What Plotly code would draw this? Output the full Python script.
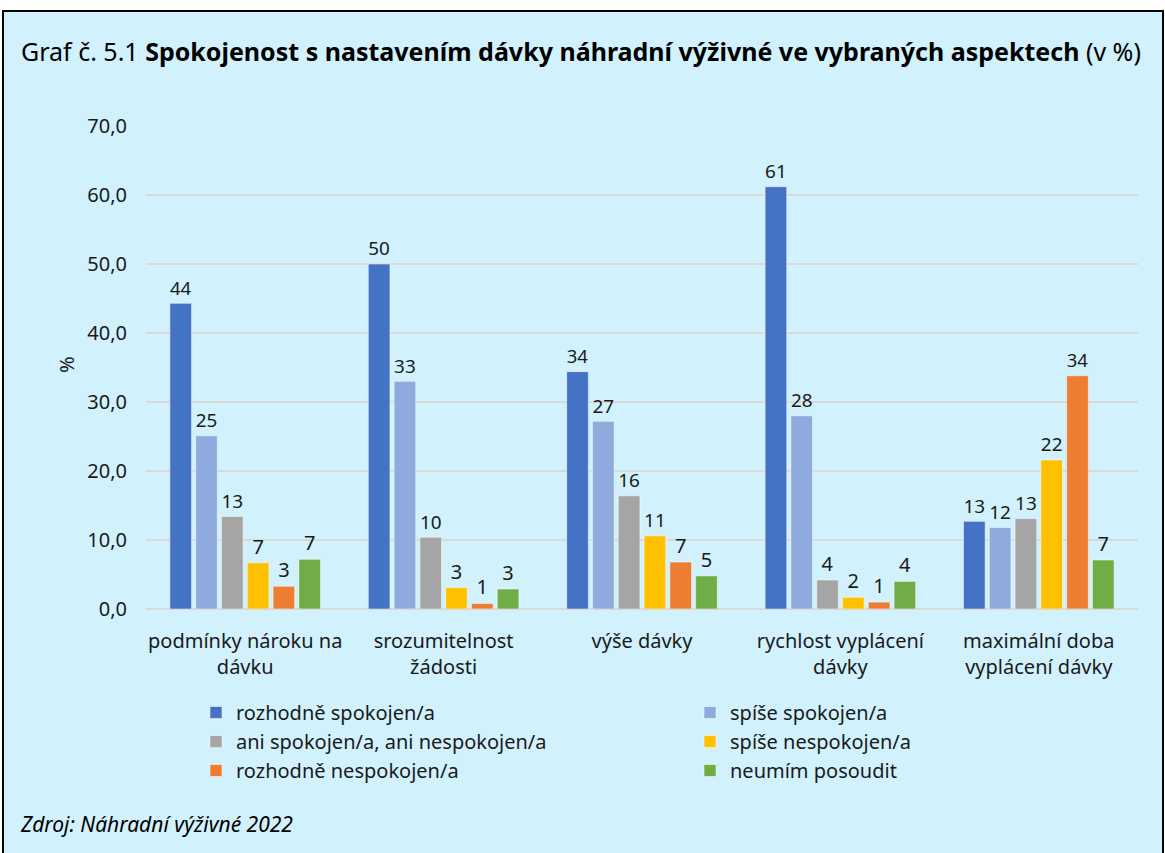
import plotly.graph_objects as go

categories = [
    "podmínky nároku na<br>dávku",
    "srozumitelnost<br>žádosti",
    "výše dávky",
    "rychlost vyplácení<br>dávky",
    "maximální doba<br>vyplácení dávky",
]

series_names = [
    "rozhodně spokojen/a",
    "spíše spokojen/a",
    "ani spokojen/a, ani nespokojen/a",
    "spíše nespokojen/a",
    "rozhodně nespokojen/a",
    "neumím posoudit",
]

rozhodne_spokojen = [44.3, 50.0, 34.4, 61.2, 12.7]
spise_spokojen = [25.1, 33.0, 27.2, 28.0, 11.8]
ani_ani = [13.4, 10.4, 16.4, 4.2, 13.1]
spise_nespokojen = [6.7, 3.1, 10.6, 1.7, 21.6]
rozhodne_nespokojen = [3.3, 0.8, 6.8, 1.0, 33.8]
neumim = [7.2, 2.9, 4.8, 4.0, 7.1]

values = [rozhodne_spokojen, spise_spokojen, ani_ani,
          spise_nespokojen, rozhodne_nespokojen, neumim]
colors = ["#4472C4", "#8FAADC", "#A5A5A5", "#FFC000", "#ED7D31", "#70AD47"]

FONT = "Noto Sans"
W, H = 1165, 853
L, R, T, B = 146, 27, 126, 244
PW, PH = W - L - R, H - T - B


def px_x(px):
    return (px - L) / PW


def px_y(py):
    return (H - B - py) / PH


fig = go.Figure()
for i, (name, vals, col) in enumerate(zip(series_names, values, colors)):
    # legend laid out in two columns: even traces left, odd traces right
    fig.add_trace(go.Bar(
        x=categories, y=vals, name=name,
        marker=dict(color=col, line=dict(color="rgba(255,255,255,0.5)", width=1)),
        texttemplate="%{y:.0f}", textposition="outside",
        textfont=dict(size=20, color="#1a1a1a", family=FONT),
        cliponaxis=False,
        legend="legend" if i % 2 == 0 else "legend2",
        legendgroup=f"g{i}",
    ))

# panel background with frame
fig.add_shape(type="rect", xref="paper", yref="paper", layer="below",
              x0=px_x(3), x1=px_x(1163), y0=px_y(870), y1=px_y(11),
              fillcolor="#D1F1FD", line=dict(color="black", width=2))

fig.add_annotation(
    xref="paper", yref="paper", x=px_x(19), y=px_y(51), xanchor="left", yanchor="middle",
    text="Graf č. 5.1 <b>Spokojenost s nastavením dávky náhradní výživné ve vybraných aspektech</b> (v %)",
    showarrow=False, font=dict(size=25, color="black", family=FONT))

fig.add_annotation(
    xref="paper", yref="paper", x=px_x(66), y=px_y(365), xanchor="center", yanchor="middle",
    text="%", textangle=-90,
    showarrow=False, font=dict(size=20, color="#1a1a1a", family=FONT))

fig.add_annotation(
    xref="paper", yref="paper", x=px_x(18), y=px_y(824), xanchor="left", yanchor="middle",
    text="<i>Zdroj: Náhradní výživné 2022</i>",
    showarrow=False, font=dict(size=21, color="black", family=FONT))

legend_style = dict(orientation="v", xanchor="left", yanchor="top",
                    traceorder="grouped", tracegroupgap=0,
                    font=dict(size=20, color="#1a1a1a", family=FONT),
                    bgcolor="rgba(0,0,0,0)", itemwidth=30)

fig.update_layout(
    width=W, height=H,
    margin=dict(l=L, r=R, t=T, b=B),
    paper_bgcolor="white", plot_bgcolor="rgba(0,0,0,0)",
    font=dict(family=FONT, size=20, color="#1a1a1a"),
    separators=", ",
    barmode="group", bargap=0.22, bargroupgap=0.16,
    xaxis=dict(showgrid=False, showline=False, ticks="", tickfont=dict(size=20),
               automargin=False, ticklabelstandoff=18),
    yaxis=dict(range=[0, 70], dtick=10, tickformat=".1f", showgrid=True,
               gridcolor="#D9D9D9", gridwidth=2, zeroline=True, zerolinecolor="#D9D9D9",
               zerolinewidth=2, ticks="", ticklabelstandoff=18, automargin=False,
               tickfont=dict(size=20)),
    legend=dict(x=px_x(196), y=px_y(693), **legend_style),
    legend2=dict(x=px_x(690), y=px_y(693), **legend_style),
    showlegend=True,
)

fig.write_html("out.html", config={"displayModeBar": False},
               post_script="document.body.style.margin='0';")
